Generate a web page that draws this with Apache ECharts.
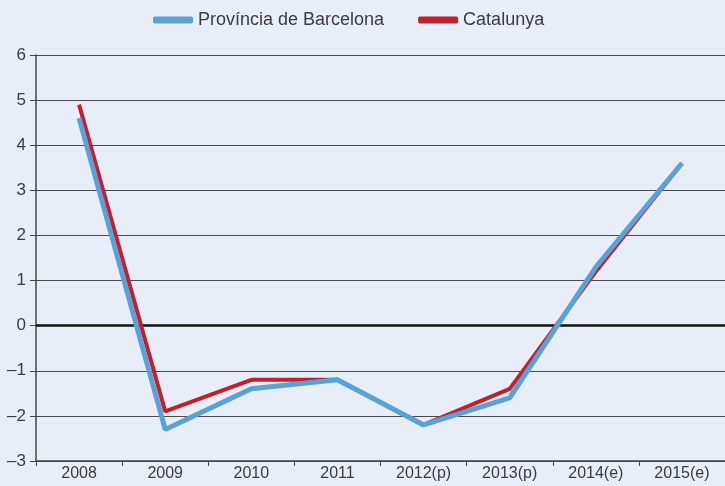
<!DOCTYPE html>
<html>
<head>
<meta charset="utf-8">
<script src="https://cdn.jsdelivr.net/npm/echarts@6/dist/echarts.min.js"></script>
<style>
  html, body { margin: 0; padding: 0; background: #e8eef8; }
  #chart { width: 725px; height: 486px; }
</style>
</head>
<body>
<div id="chart"></div>
<script>
var years = ["2008", "2009", "2010", "2011", "2012(p)", "2013(p)", "2014(e)", "2015(e)"];
var barcelona = [4.6, -2.3, -1.4, -1.2, -2.2, -1.6, 1.3, 3.6];
var catalunya = [4.9, -1.9, -1.2, -1.2, -2.2, -1.4, 1.2, 3.6];

var font = '"Liberation Sans Narrow", "Arial Narrow", "Liberation Sans", sans-serif';

var chart = echarts.init(document.getElementById("chart"));
chart.setOption({
  backgroundColor: "#e8eef8",
  animation: false,
  textStyle: { fontFamily: font },
  legend: {
    top: 6,
    left: 148,
    itemWidth: 40,
    itemHeight: 7,
    itemGap: 34,
    icon: "roundRect",
    textStyle: { fontFamily: font, fontSize: 18, color: "#3a3a48" },
    data: ["Província de Barcelona", "Catalunya"]
  },
  grid: { left: 36, right: 0, top: 55, bottom: 25 },
  xAxis: {
    type: "category",
    data: years,
    boundaryGap: true,
    axisLine: { onZero: false, lineStyle: { color: "#444", width: 1.5 } },
    axisTick: { show: true, length: 5, lineStyle: { color: "#444" } },
    axisLabel: { fontFamily: font, fontSize: 16, color: "#3a3a48", margin: 5 }
  },
  yAxis: {
    type: "value",
    min: -3,
    max: 6,
    interval: 1,
    axisLine: { show: true, lineStyle: { color: "#444", width: 1.5 } },
    axisTick: { show: true, length: 6, lineStyle: { color: "#444" } },
    axisLabel: {
      fontFamily: font, fontSize: 17, color: "#3a3a48", margin: 10,
      formatter: function (v) { return String(v).replace("-", "\u2013"); }
    },
    splitLine: { lineStyle: { color: "#4a4a4a", width: 1.2 } }
  },
  series: [
    {
      name: "Província de Barcelona",
      type: "line",
      data: barcelona,
      z: 4,
      symbol: "none",
      color: "#5aa2d6",
      lineStyle: { width: 5, color: "#5aa2d6" },
      markLine: {
        silent: true,
        symbol: "none",
        label: { show: false },
        lineStyle: { color: "#111", width: 2.5, type: "solid" },
        data: [{ yAxis: 0 }],
        z: 1
      }
    },
    {
      name: "Catalunya",
      type: "line",
      data: catalunya,
      z: 3,
      symbol: "none",
      color: "#c21f30",
      lineStyle: { width: 4, color: "#c21f30" }
    }
  ]
});
</script>
</body>
</html>
